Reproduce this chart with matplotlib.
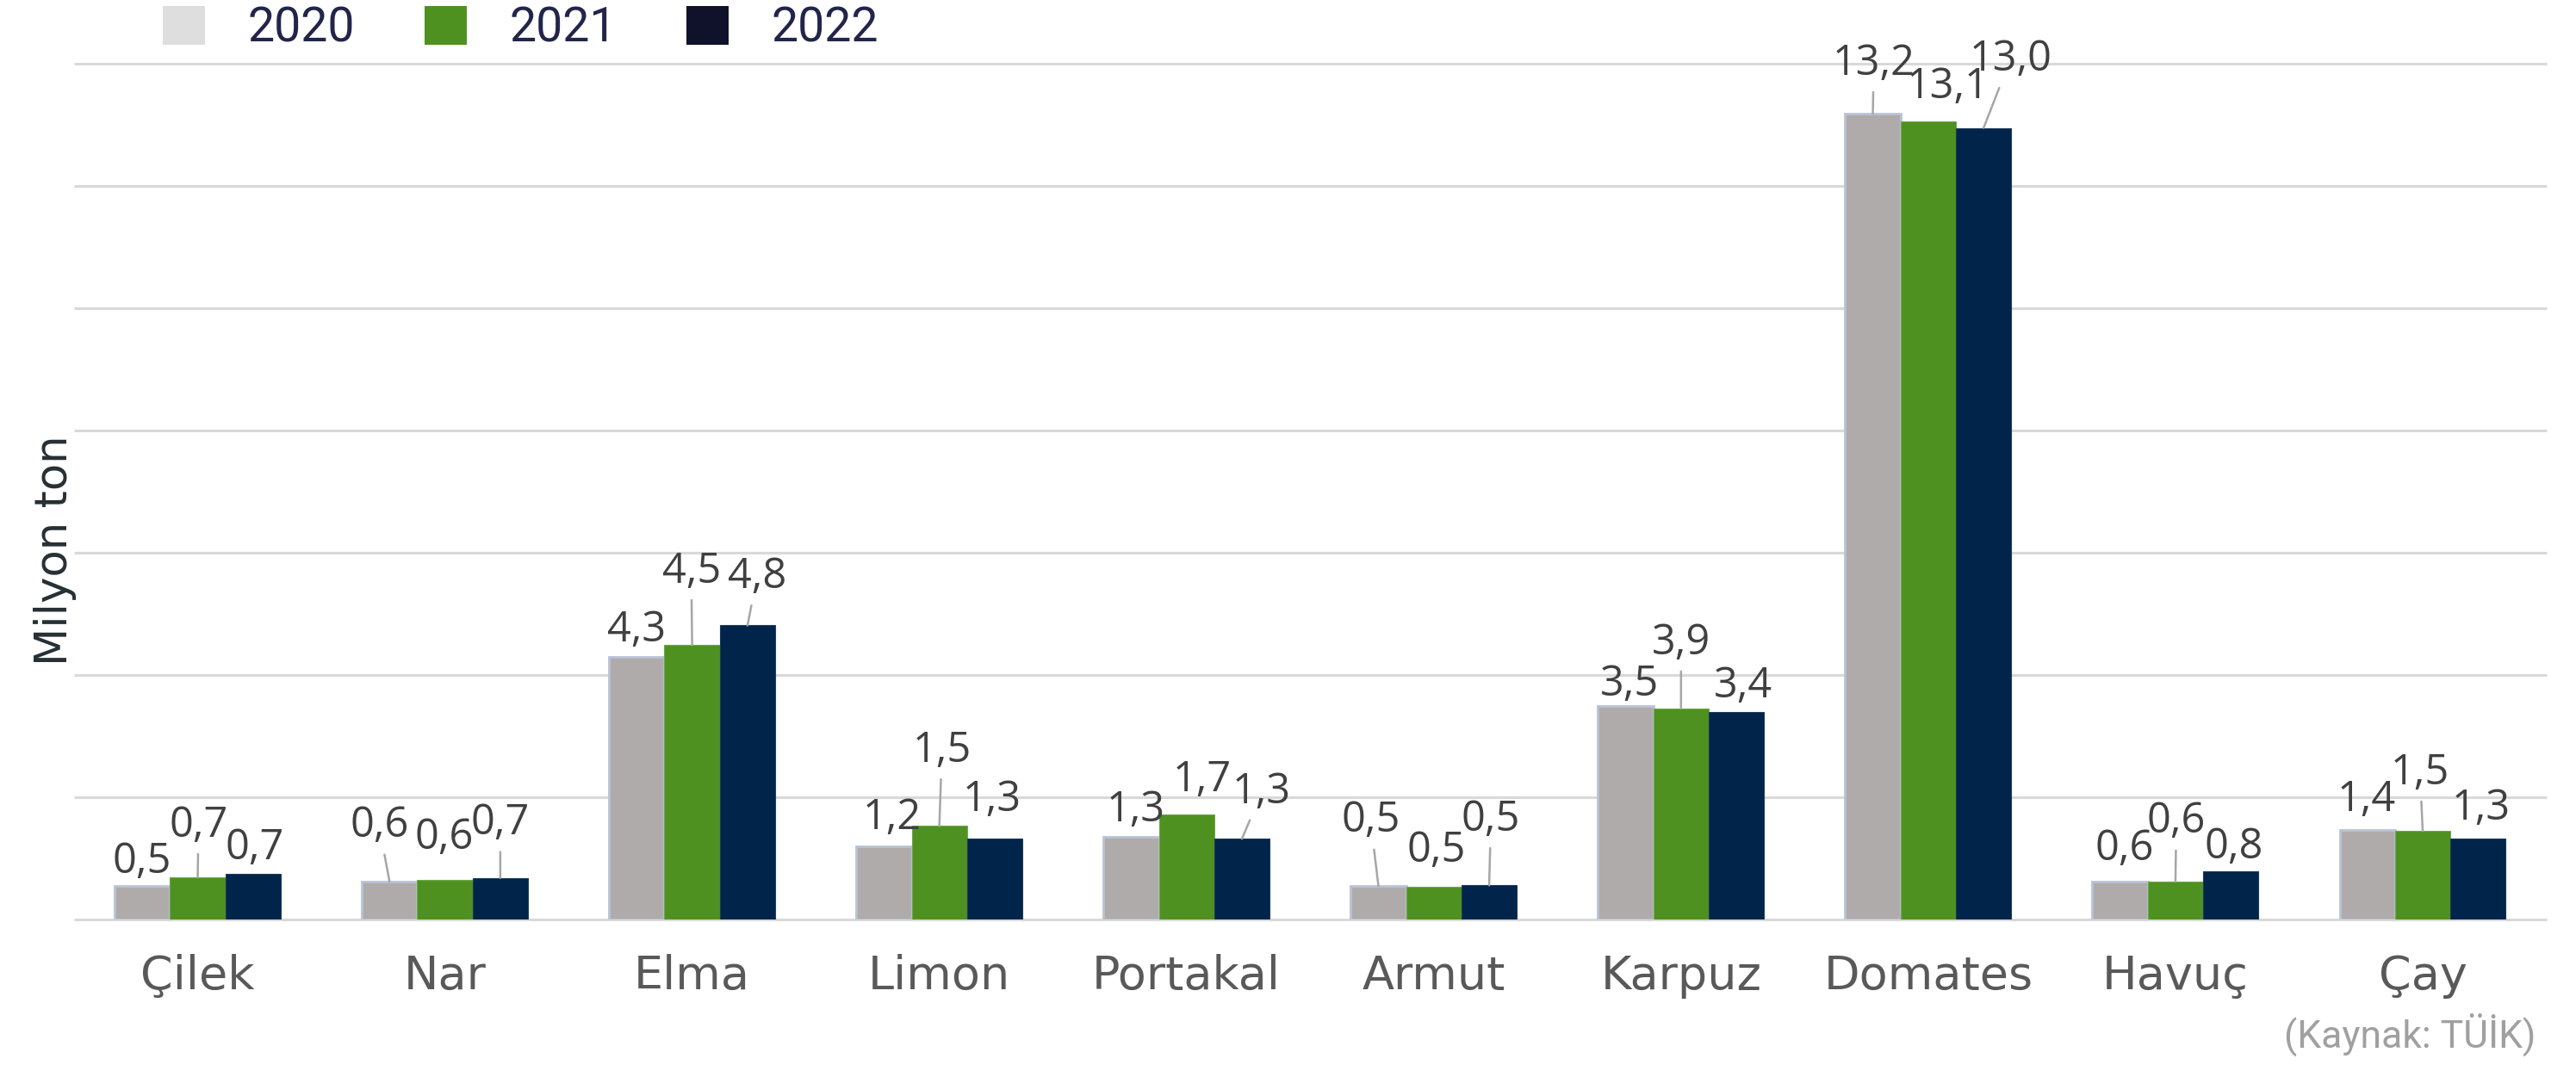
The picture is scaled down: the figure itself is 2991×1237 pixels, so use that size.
import numpy as np
import matplotlib.pyplot as plt
from matplotlib.patches import Patch

# Üretim miktarları (milyon ton)
categories = ['Çilek', 'Nar', 'Elma', 'Limon', 'Portakal', 'Armut', 'Karpuz', 'Domates', 'Havuç', 'Çay']
years = ['2020', '2021', '2022']

v2020 = [0.55, 0.62, 4.30, 1.20, 1.35, 0.55, 3.50, 13.18, 0.62, 1.46]
v2021 = [0.69, 0.65, 4.49, 1.53, 1.72, 0.53, 3.45, 13.05, 0.62, 1.45]
v2022 = [0.75, 0.68, 4.81, 1.32, 1.32, 0.56, 3.39, 12.95, 0.79, 1.32]

lab2020 = ['0,5', '0,6', '4,3', '1,2', '1,3', '0,5', '3,5', '13,2', '0,6', '1,4']
lab2021 = ['0,7', '0,6', '4,5', '1,5', '1,7', '0,5', '3,9', '13,1', '0,6', '1,5']
lab2022 = ['0,7', '0,7', '4,8', '1,3', '1,3', '0,5', '3,4', '13,0', '0,8', '1,3']

# etiket kaydırmaları (piksel) ve kılavuz çizgisi
off2020 = [(-1, 32, 0), (-12, 69, 1), (0, 35, 0), (9, 37, 0), (5, 36, 0),
           (-9, 80, 1), (4, 29, 0), (1, 63, 1), (5, 42, 0), (-1, 40, 0)]
off2021 = [(1, 65, 1), (-1, 53, 0), (-1, 90, 1), (3, 92, 1), (18, 44, 0),
           (3, 47, 0), (0, 81, 1), (23, 45, 0), (1, 74, 1), (-3, 72, 1)]
off2022 = [(2, 34, 0), (0, 68, 1), (11, 61, 1), (-3, 50, 0), (23, 59, 1),
           (2, 81, 1), (8, 35, 0), (31, 84, 1), (3, 32, 0), (3, 40, 0)]

series = [v2020, v2021, v2022]
labels = [lab2020, lab2021, lab2022]
offsets = [off2020, off2021, off2022]
bar_colors = ['#afabaa', '#4e9120', '#00244a']
edge_colors = ['#b9c3d6', '#6fa84a', '#1d3a5c']
edge_lw = [2.0, 0.8, 0.8]
legend_colors = ['#dedede', '#4e9120', '#10112a']

W, H = 2991, 1237
fig = plt.figure(figsize=(W / 100, H / 100), dpi=100)
ax = fig.add_axes([86 / W, 1 - 1068 / H, (2956.5 - 86) / W, (1068 - 74) / H])

x = np.arange(len(categories))
w = 0.224
ax.hlines(np.arange(0, 15, 2), -0.5, len(categories) - 0.5, color='#d9d9d9', lw=2.2, clip_on=False, zorder=1)
for k in range(3):
    ax.bar(x + (k - 1) * w, series[k], w, color=bar_colors[k],
           edgecolor=edge_colors[k], linewidth=edge_lw[k], zorder=3)

for k in range(3):
    for i in range(len(categories)):
        dx, dy, lead = offsets[k][i]
        ap = dict(arrowstyle='-', color='#a6a6a6', lw=1.8, shrinkA=4, shrinkB=0) if lead else None
        ax.annotate(labels[k][i], xy=(x[i] + (k - 1) * w, series[k][i]),
                    xytext=(dx, dy - 17.5), textcoords='offset pixels',
                    ha='center', va='baseline', fontsize=35, family='Open Sans',
                    color='#404040', arrowprops=ap, zorder=5, annotation_clip=False)

ax.set_xlim(-0.5, len(categories) - 0.5)
ax.set_ylim(0, 14)
ax.set_yticks([])
ax.set_xticks(x)
ax.set_xticklabels(categories, fontsize=39, color='#595959', family='DejaVu Sans')
ax.tick_params(axis='x', length=0, pad=29)
for s in ax.spines.values():
    s.set_visible(False)

fig.text(64 / W, 1 - 639 / H, 'Milyon ton', rotation=90, ha='center', va='center',
         fontsize=37, color='#262f33', family='DejaVu Sans')
fig.text(2945 / W, 1 - 1217 / H, '(Kaynak: TÜİK)', ha='right', va='baseline',
         fontsize=32, color='#a0a0a0', family='Roboto')

handles = [Patch(facecolor=c) for c in legend_colors]
leg = fig.legend(handles, years, loc='center left', bbox_to_anchor=(189 / W, 1 - 33 / H),
                 ncol=3, frameon=False, borderpad=0, borderaxespad=0,
                 handlelength=0.88, handleheight=0.88, handletextpad=0.9, columnspacing=1.45,
                 prop=dict(family='Roboto', size=40))
for t in leg.get_texts():
    t.set_color('#22254a')

fig.savefig('out.png', dpi=100)
